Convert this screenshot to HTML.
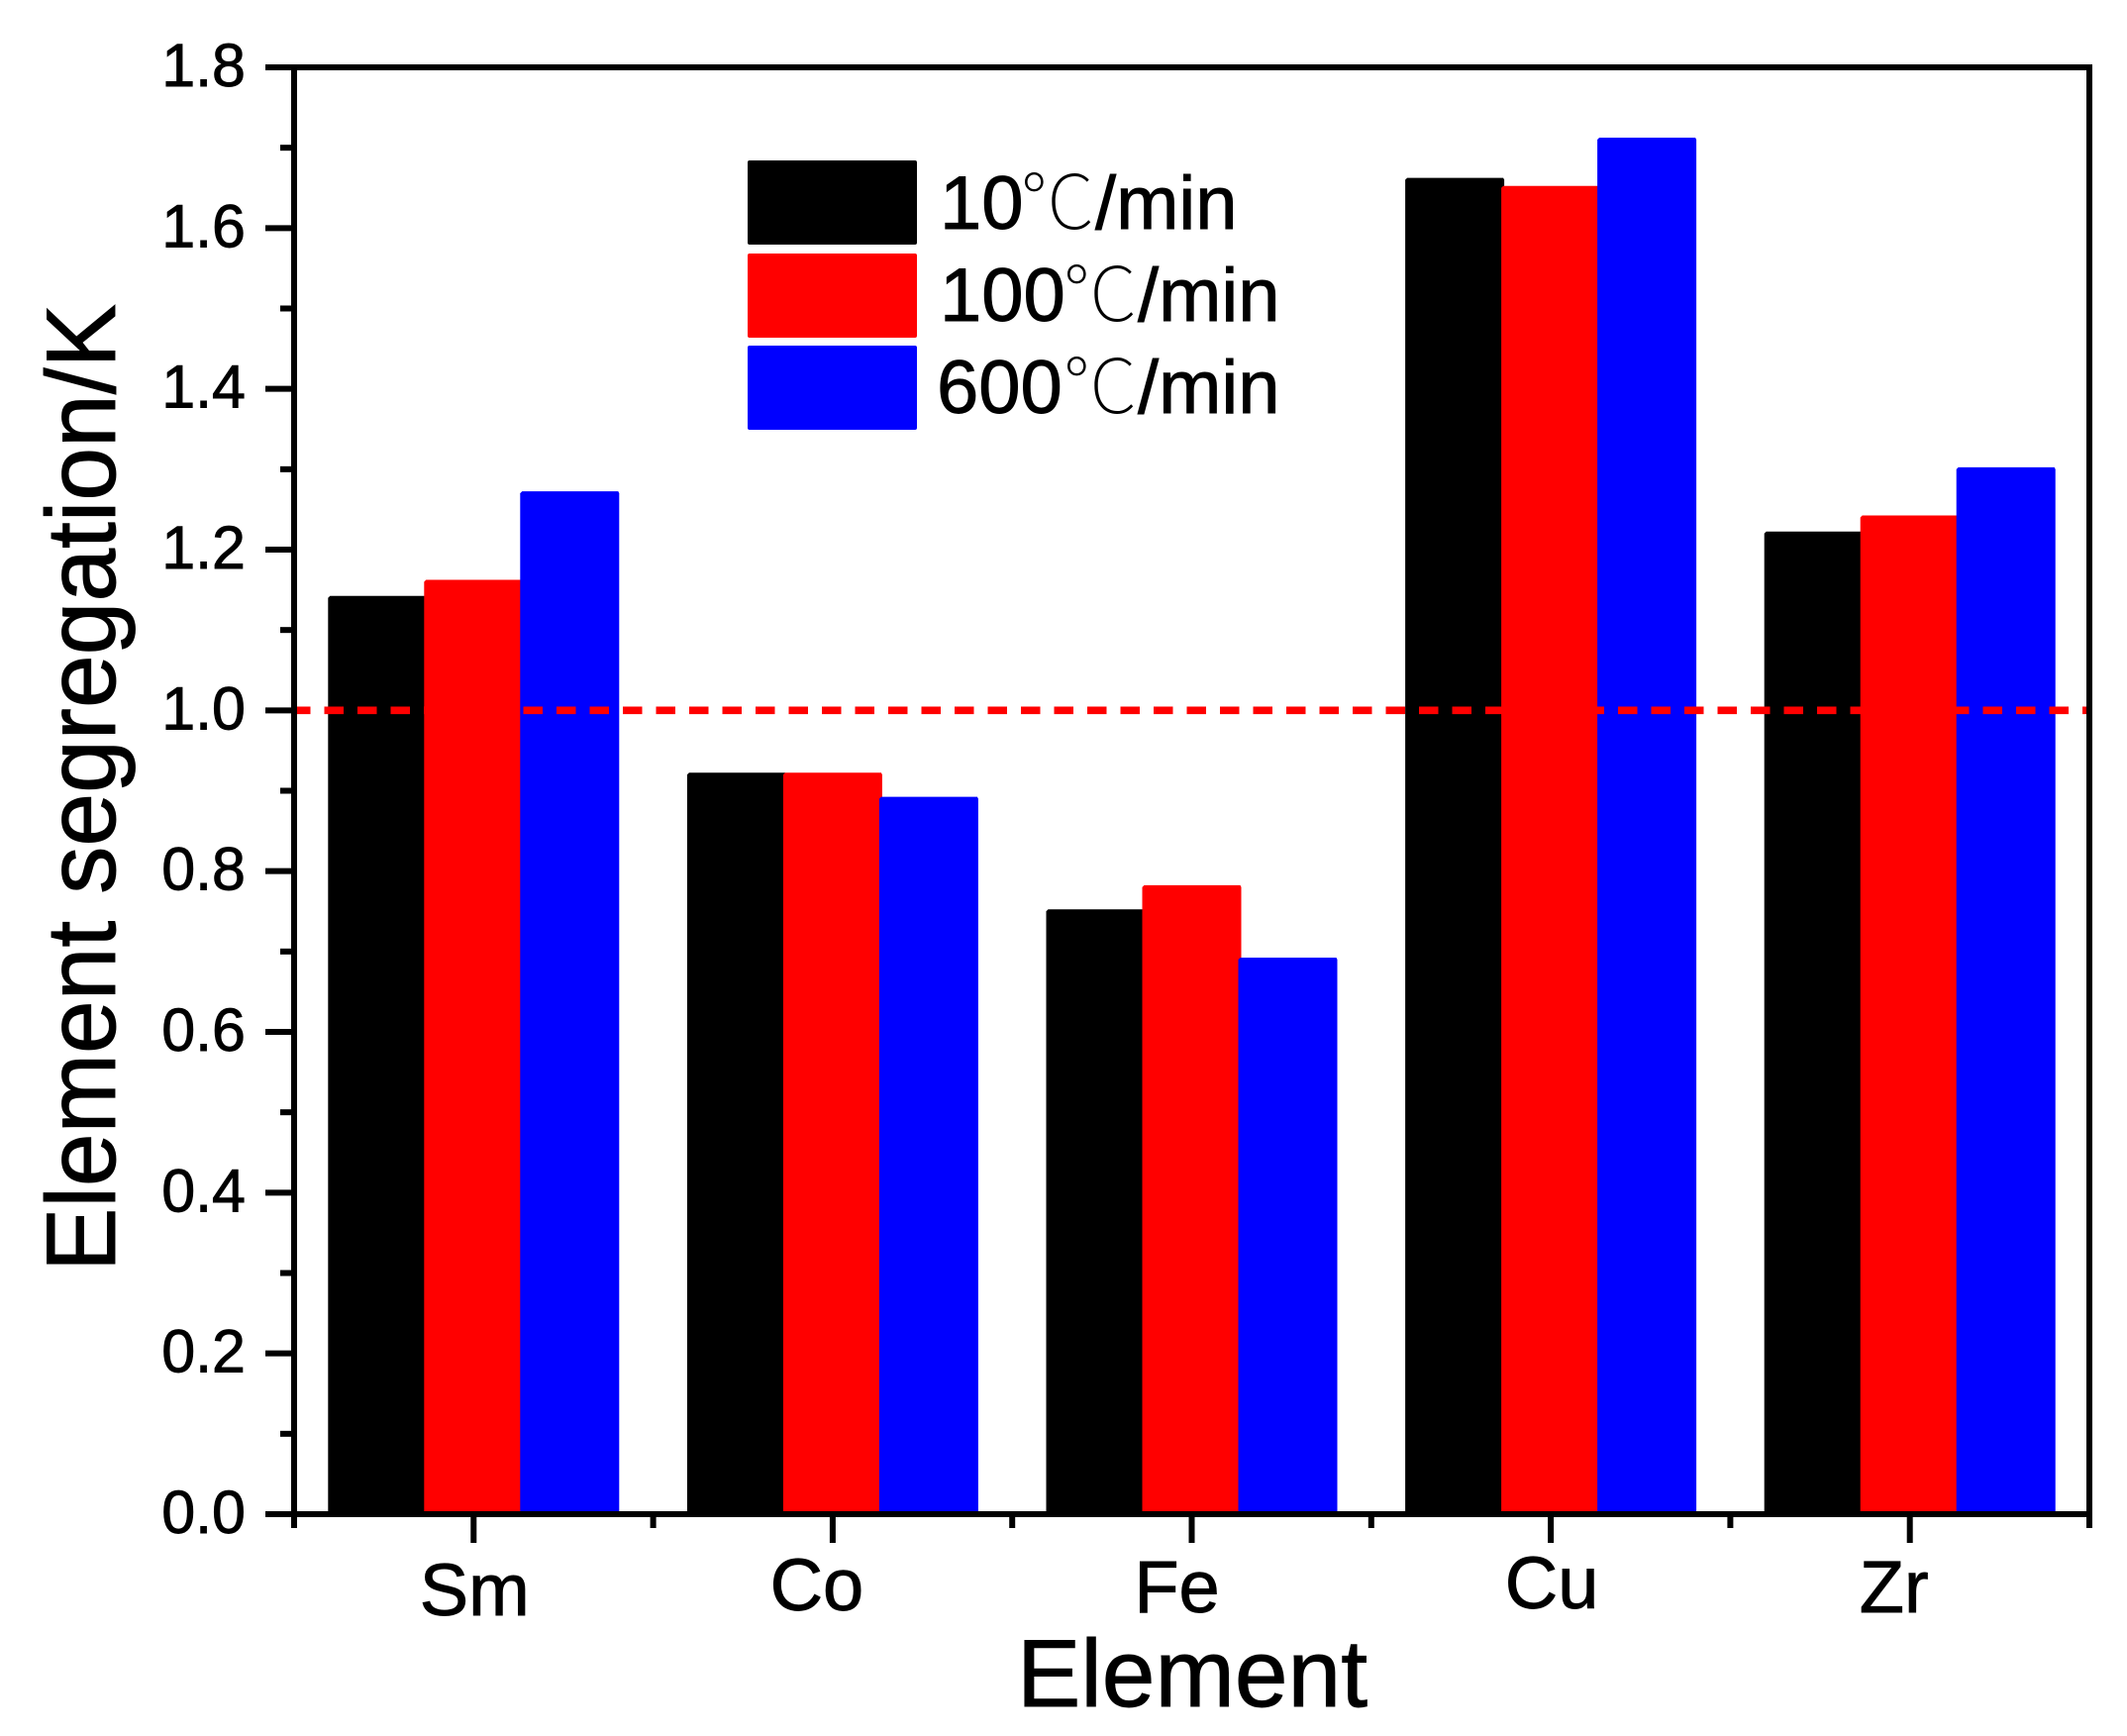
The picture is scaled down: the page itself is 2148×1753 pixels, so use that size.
<!DOCTYPE html>
<html lang="en">
<head>
<meta charset="utf-8">
<title>Element segregation by cooling rate</title>
<style>
  html, body { margin: 0; padding: 0; background: #fff; }
  svg { display: block; }
  text { font-family: "Liberation Sans", "Noto Sans CJK SC", sans-serif; fill: #000; stroke: #000; stroke-width: 0.9px; }
  .cjk { font-family: "Noto Sans CJK SC", "WenQuanYi Zen Hei", sans-serif; font-weight: 100; stroke-width: 0; }
</style>
</head>
<body>
<svg id="chart" xmlns="http://www.w3.org/2000/svg" width="2148" height="1753" viewBox="0 0 2148 1753">
  <rect x="0" y="0" width="2148" height="1753" fill="#fff"/>
  <g id="bars"></g>
  <g id="reference"></g>
  <g id="axes"></g>

  <text transform="translate(116,1284) rotate(-90)" font-size="99" textLength="977" lengthAdjust="spacingAndGlyphs">Element segregation/K</text>
  <text x="1027" y="1723" font-size="96.5">Element</text>

  <g>
    <rect x="755" y="162" width="171" height="85" fill="#000" rx="2"/>
    <rect x="755" y="256" width="171" height="85" fill="#f00" rx="2"/>
    <rect x="755" y="349" width="171" height="85" fill="#00f" rx="2"/>
    <text y="231" font-size="76"><tspan x="949">10</tspan><tspan class="cjk" x="1030" y="231">℃</tspan><tspan x="1106" y="231">/min</tspan></text>
    <text y="324" font-size="76"><tspan x="949">100</tspan><tspan class="cjk" x="1073" y="324">℃</tspan><tspan x="1149" y="324">/min</tspan></text>
    <text y="417" font-size="76"><tspan x="946">600</tspan><tspan class="cjk" x="1073" y="417">℃</tspan><tspan x="1149" y="417">/min</tspan></text>
  </g>
</svg>
<script>
const categories = ["Sm", "Co", "Fe", "Cu", "Zr"];
const series10 = [1.14, 0.92, 0.75, 1.66, 1.22];
const series100 = [1.16, 0.92, 0.78, 1.65, 1.24];
const series600 = [1.27, 0.89, 0.69, 1.71, 1.30];
const yTickLabels = ["0.0", "0.2", "0.4", "0.6", "0.8", "1.0", "1.2", "1.4", "1.6", "1.8"];
const referenceValue = 1.0;

const NS = "http://www.w3.org/2000/svg";
const plotLeft = 297, plotRight = 2110, plotTop = 68, plotBottom = 1529;
const yMax = 1.8;
const colors = ["#000", "#f00", "#00f"];
const seriesNames = ["10", "100", "600"];
const allSeries = [series10, series100, series600];
const barWidth = 100, barStep = 97, barCap = 2;
const labelNudge = { Sm: [1, 102], Co: [-16, 97], Fe: [-15, 99], Cu: [1, 95], Zr: [-16, 99] };

function yScale(v) { return plotBottom - (v / yMax) * (plotBottom - plotTop); }
function xBand() { return (plotRight - plotLeft) / categories.length; }
function xScale(i) { return plotLeft + xBand() * (i + 0.5); }

function make(tag, attrs, parent) {
  const el = document.createElementNS(NS, tag);
  for (const k in attrs) el.setAttribute(k, attrs[k]);
  parent.appendChild(el);
  return el;
}

const barsG = document.getElementById("bars");
const refG = document.getElementById("reference");
const axesG = document.getElementById("axes");

allSeries.forEach(function (values, s) {
  values.forEach(function (v, i) {
    const top = yScale(v) - barCap;
    const r = make("path", {
      d: "M" + (xScale(i) + (s - 1) * barStep - barWidth / 2) + " " + plotBottom +
         "V" + (top + 2) + "l2 -2H" + (xScale(i) + (s - 1) * barStep + barWidth / 2 - 1) +
         "l1 2V" + plotBottom + "Z",
      fill: colors[s]
    }, barsG);
    
    
  });
});

const refLine = make("line", {
  x1: plotLeft + 3, x2: plotRight - 3,
  y1: yScale(referenceValue), y2: yScale(referenceValue),
  stroke: "#f00", "stroke-width": 7.6,
  "stroke-dasharray": "19.5 14", "stroke-dashoffset": 6
}, refG);



const frame = make("rect", {
  x: plotLeft, y: plotTop, width: plotRight - plotLeft, height: plotBottom - plotTop,
  fill: "none", stroke: "#000", "stroke-width": 6
}, axesG);



yTickLabels.forEach(function (label, i) {
  const v = parseFloat(label);
  const y = yScale(v);
  const t = make("line", { x1: 268, x2: plotLeft, y1: y, y2: y, stroke: "#000", "stroke-width": 6 }, axesG);
  
  
  const txt = make("text", { x: 248, y: y + 19, "font-size": 61, "text-anchor": "end" }, axesG);
  txt.textContent = label;
  
  
  if (i < yTickLabels.length - 1) {
    const next = parseFloat(yTickLabels[i + 1]);
    const ym = yScale((v + next) / 2);
    const m = make("line", { x1: 283, x2: plotLeft, y1: ym, y2: ym, stroke: "#000", "stroke-width": 6 }, axesG);
    
    
  }
});

categories.forEach(function (cat, i) {
  const x = xScale(i);
  const t = make("line", { x1: x, x2: x, y1: plotBottom, y2: 1558, stroke: "#000", "stroke-width": 6 }, axesG);
  
  
  const nudge = labelNudge[cat] || [0, 99];
  const txt = make("text", { x: x + nudge[0], y: plotBottom + nudge[1], "font-size": 74, "text-anchor": "middle" }, axesG);
  txt.textContent = cat;
  
  
});

for (let i = 0; i <= categories.length; i++) {
  const x = plotLeft + xBand() * i;
  const m = make("line", { x1: x, x2: x, y1: plotBottom, y2: 1543, stroke: "#000", "stroke-width": 6 }, axesG);
  
  
}
</script>
</body>
</html>
